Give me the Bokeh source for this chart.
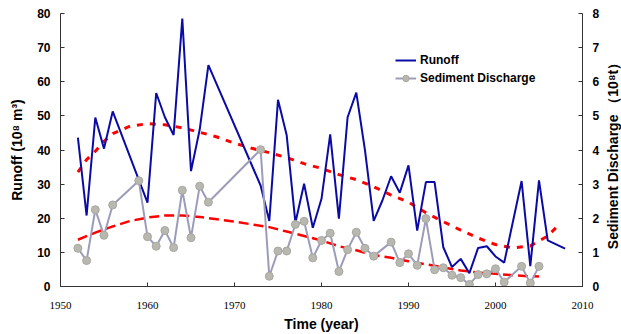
import math
from bokeh.plotting import figure
from bokeh.models import Range1d, LinearAxis, Legend, LegendItem, FixedTicker, Label
from bokeh.embed import file_html
from bokeh.resources import INLINE

# Annual runoff (10^8 m^3)
runoff_years = [1952, 1953, 1954, 1955, 1956, 1960, 1961, 1962, 1963, 1964, 1965, 1966, 1967,
                1973, 1974, 1975, 1976, 1977, 1978, 1979, 1980, 1981, 1982, 1983, 1984, 1985,
                1986, 1987, 1988, 1989, 1990, 1991, 1992, 1993, 1994, 1995, 1996, 1997, 1998,
                1999, 2000, 2001, 2003, 2004, 2005, 2006, 2008]
runoff = [43.6, 20.8, 49.5, 40.4, 51.3, 24.6, 56.7, 49.6, 44.4, 78.5, 33.8, 46.0, 64.9,
          29.6, 19.2, 54.7, 44.3, 18.7, 30.1, 17.2, 25.7, 44.6, 19.9, 49.6, 56.8, 39.9,
          19.2, 25.2, 32.3, 27.5, 35.5, 16.4, 30.6, 30.6, 11.5, 5.7, 8.1, 3.9, 11.3,
          11.8, 8.8, 7.0, 30.9, 6.0, 31.1, 13.5, 11.1]

# Annual sediment discharge (10^8 t)
sed_years = [1952, 1953, 1954, 1955, 1956, 1959, 1960, 1961, 1962, 1963, 1964, 1965, 1966,
             1967, 1973, 1974, 1975, 1976, 1977, 1978, 1979, 1980, 1981, 1982, 1983, 1984,
             1985, 1986, 1988, 1989, 1990, 1991, 1992, 1993, 1994, 1995, 1996, 1997, 1998,
             1999, 2000, 2001, 2003, 2004, 2005]
sediment = [1.12, 0.76, 2.25, 1.50, 2.39, 3.10, 1.46, 1.18, 1.64, 1.14, 2.82, 1.43, 2.94,
            2.47, 4.01, 0.30, 1.04, 1.04, 1.82, 1.91, 0.84, 1.35, 1.56, 0.44, 1.08, 1.59,
            1.12, 0.89, 1.30, 0.70, 0.96, 0.62, 1.99, 0.49, 0.55, 0.33, 0.26, 0.06, 0.35,
            0.37, 0.52, 0.13, 0.59, 0.10, 0.59]

# Polynomial trend curves
runoff_trend_years = [1952, 1953, 1954, 1955, 1956, 1958, 1960, 1962, 1964, 1966, 1968, 1970,
                      1972, 1974, 1976, 1978, 1980, 1982, 1984, 1986, 1988, 1990, 1992, 1994,
                      1996, 1998, 2000, 2002, 2004, 2006, 2007.5]
runoff_trend = [33.5, 37.2, 39.6, 42.5, 44.8, 47.0, 47.7, 47.4, 46.5, 45.2, 43.8, 42.0,
                40.5, 39.2, 37.8, 36.0, 34.6, 32.8, 31.3, 29.2, 26.8, 24.7, 21.6, 19.0,
                16.5, 14.2, 12.3, 11.3, 11.9, 14.8, 18.6]

sed_trend_years = [1952, 1954, 1956, 1958, 1960, 1962, 1964, 1966, 1968, 1970, 1972, 1974,
                   1976, 1978, 1980, 1982, 1984, 1986, 1988, 1990, 1992, 1994, 1996, 1998,
                   2000, 2002, 2004, 2005]
sed_trend = [1.37, 1.58, 1.76, 1.92, 2.02, 2.08, 2.08, 2.04, 1.97, 1.90, 1.82, 1.74,
             1.61, 1.48, 1.35, 1.18, 1.06, 0.92, 0.84, 0.74, 0.65, 0.56, 0.47, 0.41,
             0.37, 0.33, 0.30, 0.29]

x_ticks = [1950, 1960, 1970, 1980, 1990, 2000, 2010]
left_ticks = [0, 10, 20, 30, 40, 50, 60, 70, 80]
right_ticks = [0, 1, 2, 3, 4, 5, 6, 7, 8]

SANS = "Liberation Sans"
SERIF = "Liberation Serif"

p = figure(width=621, height=334, output_backend="svg", toolbar_location=None, title=None,
           x_range=Range1d(1950, 2010), y_range=Range1d(0, 80),
           min_border_left=60, min_border_right=39, min_border_top=13, min_border_bottom=48)
p.extra_y_ranges = {"sed": Range1d(0, 8)}
p.outline_line_color = None
p.grid.visible = False
p.background_fill_color = "white"
p.border_fill_color = "white"

right_axis = LinearAxis(y_range_name="sed")
p.add_layout(right_axis, "right")


def style_axis(ax, ticks):
    ax.ticker = FixedTicker(ticks=ticks)
    ax.minor_tick_line_color = None
    ax.major_tick_in = 4
    ax.major_tick_out = 0
    ax.axis_line_color = "#333333"
    ax.major_tick_line_color = "#333333"
    ax.major_label_text_color = "black"
    ax.axis_label_text_font = SANS
    ax.axis_label_text_font_style = "bold"
    ax.axis_label_text_font_size = "14px"
    ax.axis_label_text_color = "black"


style_axis(p.xaxis[0], x_ticks)
p.xaxis[0].major_label_text_font = SERIF
p.xaxis[0].major_label_text_font_size = "11px"
p.xaxis[0].major_label_standoff = 15
p.xaxis[0].axis_label = "Time (year)"
p.xaxis[0].axis_label_standoff = 4

left = p.yaxis[0]
style_axis(left, left_ticks)
left.major_label_text_font = SANS
left.major_label_text_font_style = "bold"
left.major_label_text_font_size = "12px"
left.major_label_standoff = 10
left.axis_label = "Runoff (10⁸ m³)"
left.axis_label_standoff = 9

style_axis(right_axis, right_ticks)
right_axis.major_label_text_font = SANS
right_axis.major_label_text_font_style = "bold"
right_axis.major_label_text_font_size = "12px"
right_axis.major_label_standoff = 10

# Right-hand title, reading bottom to top, in the panel beside the right axis
p.add_layout(Label(x=10, y=134, x_units="screen", y_units="screen",
                   text="Sediment Discharge （10⁸t）", angle=math.pi / 2,
                   text_align="center", text_baseline="middle",
                   text_font=SANS, text_font_style="bold", text_font_size="14px",
                   text_color="black"), "right")

# Trend curves
p.line(runoff_trend_years, runoff_trend, line_color="#FF0000", line_width=3, line_dash="6 7")
p.line(sed_trend_years, sed_trend, y_range_name="sed", line_color="#FF0000",
       line_width=2.5, line_dash="10 5")

# Series
r_runoff = p.line(runoff_years, runoff, line_color="#0A0AA6", line_width=2)
r_sed_line = p.line(sed_years, sediment, y_range_name="sed", line_color="#9C9CBA", line_width=2)
r_sed_pts = p.scatter(sed_years, sediment, y_range_name="sed", marker="circle", size=8,
                      fill_color="#B8B8B0", line_color="#A8A8A2", line_width=1)

legend = Legend(items=[LegendItem(label="Runoff", renderers=[r_runoff]),
                       LegendItem(label="Sediment Discharge", renderers=[r_sed_line, r_sed_pts])],
                location=(335, 200), glyph_width=21, glyph_height=16, label_height=16,
                label_standoff=4, spacing=2, padding=0, margin=0,
                border_line_color=None, background_fill_alpha=0,
                label_text_font=SANS, label_text_font_style="bold",
                label_text_font_size="12px", label_text_color="black")
p.add_layout(legend)

open("out.html", "w").write(file_html(p, INLINE))
